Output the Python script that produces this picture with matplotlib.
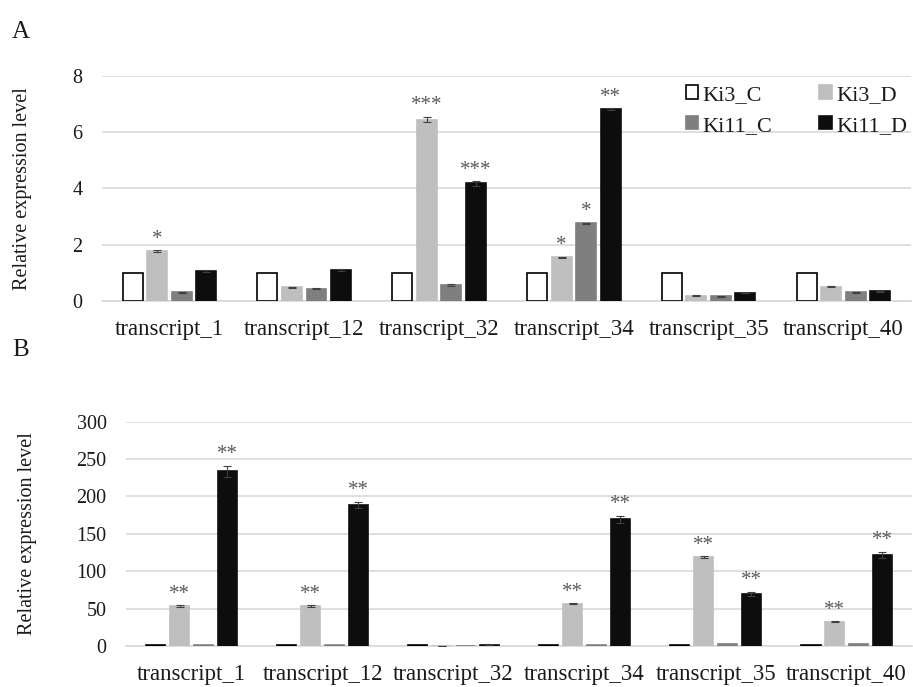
import matplotlib
matplotlib.use("Agg")
import matplotlib.pyplot as plt
import numpy as np

plt.rcParams['font.family'] = ['Liberation Serif', 'DejaVu Serif']

labels = ['transcript_1', 'transcript_12', 'transcript_32',
          'transcript_34', 'transcript_35', 'transcript_40']
series = ['Ki3_C', 'Ki3_D', 'Ki11_C', 'Ki11_D']
colors = ['white', '#bfbfbf', '#7f7f7f', '#0d0d0d']

# panel A values (Ki3_C, Ki3_D, Ki11_C, Ki11_D per transcript)
a_ki3_c = [1.0, 1.0, 1.0, 1.0, 1.0, 1.0]
a_ki3_d = [1.77, 0.49, 6.44, 1.55, 0.18, 0.51]
a_ki11_c = [0.31, 0.43, 0.56, 2.75, 0.17, 0.31]
a_ki11_d = [1.06, 1.10, 4.17, 6.82, 0.28, 0.34]
a_err_ki3_d = [0.03, 0.02, 0.10, 0.02, 0.02, 0.02]
a_err_ki11_c = [0.02, 0.02, 0.03, 0.03, 0.02, 0.02]
a_err_ki11_d = [0.03, 0.02, 0.09, 0.03, 0.01, 0.01]
a_stars = {('Ki3_D', 0): '*', ('Ki3_D', 2): '***', ('Ki11_D', 2): '***',
           ('Ki3_D', 3): '*', ('Ki11_C', 3): '*', ('Ki11_D', 3): '**'}

# panel B values
b_ki3_c = [1.0, 1.0, 1.0, 1.0, 1.0, 1.0]
b_ki3_d = [53.5, 53.5, 0.5, 56.6, 119.0, 32.5]
b_ki11_c = [1.0, 1.0, 0.0, 1.0, 2.0, 2.0]
b_ki11_d = [233.6, 188.6, 1.5, 169.4, 69.5, 122.0]
b_err_ki3_d = [0.8, 0.8, 0.0, 0.8, 0.8, 0.8]
b_err_ki11_d = [7.5, 4.0, 0.0, 4.5, 3.0, 4.0]
b_stars = {('Ki3_D', 0): '**', ('Ki11_D', 0): '**', ('Ki3_D', 1): '**',
           ('Ki11_D', 1): '**', ('Ki3_D', 3): '**', ('Ki11_D', 3): '**',
           ('Ki3_D', 4): '**', ('Ki11_D', 4): '**', ('Ki3_D', 5): '**',
           ('Ki11_D', 5): '**'}

fig = plt.figure(figsize=(9.13, 6.87), dpi=100)
axA = fig.add_axes([0.1117, 0.5619, 0.886, 0.3281])
axB = fig.add_axes([0.138, 0.0597, 0.861, 0.3265])

x = np.arange(len(labels))
width = 0.148
step = 0.182
offsets = [-1.5 * step, -0.5 * step, 0.5 * step, 1.5 * step]


def draw(ax, vals, errs, stars, ymax, ystep, star_pad):
    handles = []
    for i, (name, v, e, c) in enumerate(zip(series, vals, errs, colors)):
        ec = 'black' if c == 'white' else c
        h = ax.bar(x + offsets[i], v, width, color=c, edgecolor=ec,
                   linewidth=1.2, label=name, zorder=3)
        handles.append(h)
        if e is not None:
            ax.errorbar(x + offsets[i], v, yerr=e, fmt='none', ecolor='#404040',
                        elinewidth=0.8, capsize=3, capthick=0.8, zorder=4)
        #significance stars above the error bars
        for j in range(len(labels)):
            s = stars.get((name, j))
            if s:
                top = v[j] + (e[j] if e is not None else 0)
                ax.text(x[j] + offsets[i], top + star_pad, s, ha='center',
                        va='bottom', fontsize=15, color='#595959')
    ax.set_xlim(-0.5, len(labels) - 0.5)
    ax.set_ylim(0, ymax)
    ax.set_yticks(np.arange(0, ymax + 1, ystep))
    ax.set_xticks(x, labels)
    ax.yaxis.grid(True, color='#d9d9d9', linewidth=1.2, zorder=0)
    ax.set_axisbelow(True)
    for sp in ['top', 'right', 'left']:
        ax.spines[sp].set_visible(False)
    ax.spines['bottom'].set_color('#d9d9d9')
    ax.spines['bottom'].set_linewidth(1.2)
    ax.tick_params(axis='both', length=0, colors='#1a1a1a')
    ax.tick_params(axis='x', labelsize=16.5, pad=13)
    ax.tick_params(axis='y', labelsize=14.5, pad=14)
    ax.set_ylabel('Relative expression level', fontsize=14.5, color='#1a1a1a')
    return handles


hA = draw(axA, [a_ki3_c, a_ki3_d, a_ki11_c, a_ki11_d],
          [None, a_err_ki3_d, a_err_ki11_c, a_err_ki11_d], a_stars, 8, 2, 0.05)
draw(axB, [b_ki3_c, b_ki3_d, b_ki11_c, b_ki11_d],
     [None, b_err_ki3_d, None, b_err_ki11_d], b_stars, 300, 50, 2)

axA.yaxis.set_label_coords(-0.087, 0.5)
axB.yaxis.set_label_coords(-0.113, 0.5)

#legend fills column-wise, so order handles to read row-wise
order = [0, 2, 1, 3]
axA.legend([hA[k] for k in order], [series[k] for k in order],
           ncol=2, loc='upper right', bbox_to_anchor=(1.02, 1.045), frameon=False,
           fontsize=16, handlelength=0.55, handleheight=0.55, handletextpad=0.2,
           columnspacing=2.1, labelspacing=0.5, labelcolor='#1a1a1a')

fig.text(0.013, 0.945, 'A', fontsize=18, color='#1a1a1a')
fig.text(0.013, 0.482, 'B', fontsize=18, color='#1a1a1a')

fig.savefig('out.png', dpi=100)
